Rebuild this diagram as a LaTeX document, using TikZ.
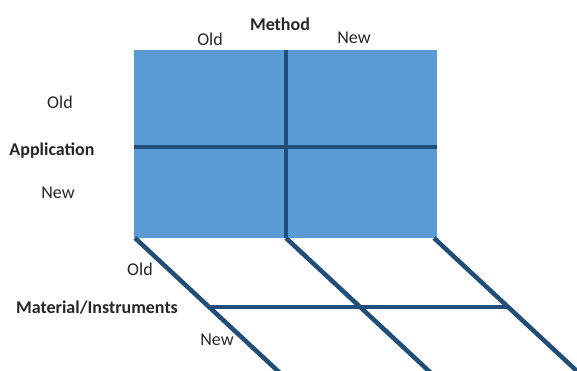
\documentclass[tikz,border=0pt]{standalone}
\usepackage{fontspec}
\setmainfont{Carlito}
\usetikzlibrary{calc}
\definecolor{fillblue}{HTML}{5B9BD5}
\definecolor{lineblue}{HTML}{1F4E79}
\definecolor{txt}{HTML}{262626}
\begin{document}
\begin{tikzpicture}[x=1pt,y=-1pt,
  grid/.style={draw=lineblue,line width=4.5pt},
  lab/.style={font=\fontsize{18}{21}\selectfont,text=txt,inner sep=0pt,anchor=base},
  blab/.style={lab,font=\fontsize{18}{21}\selectfont\bfseries}]
\useasboundingbox (0,0) rectangle (577,370);
\begin{scope}
\clip (0,0) rectangle (577,370);
\fill[fillblue] (134,50) rectangle (437,238);
\coordinate (tm) at (286,50);
\coordinate (bl) at (135,238);
\coordinate (bm) at (286,238);
\coordinate (br) at (434,238);
\coordinate (ml) at (134,147);
\coordinate (mr) at (437,147);
\draw[grid] (tm) -- (bm);
\draw[grid] (ml) -- (mr);
\coordinate (e1) at (280,373);
\coordinate (e2) at (431,373);
\coordinate (e3) at (579,373);
\draw[grid] (bl) -- (e1);
\draw[grid] (bm) -- (e2);
\draw[grid] (br) -- (e3);
\coordinate (c1) at ($(bl)!0.511!(e1)$);
\coordinate (c3) at ($(br)!0.511!(e3)$);
\draw[grid,line width=4pt] (c1) -- (c3);
\end{scope}
\node[blab] (method) at (280,30) {Method};
\node[lab] (mold) at (210,45) {Old};
\node[lab] (mnew) at (354,43) {New};
\node[lab] (aold) at (60,108) {Old};
\node[blab] (app) at (52,155) {Application};
\node[lab] (anew) at (58,198) {New};
\node[lab] (iold) at (140,275) {Old};
\node[blab] (mat) at (97,313) {Material/Instruments};
\node[lab] (inew) at (217,345) {New};
\end{tikzpicture}
\end{document}
